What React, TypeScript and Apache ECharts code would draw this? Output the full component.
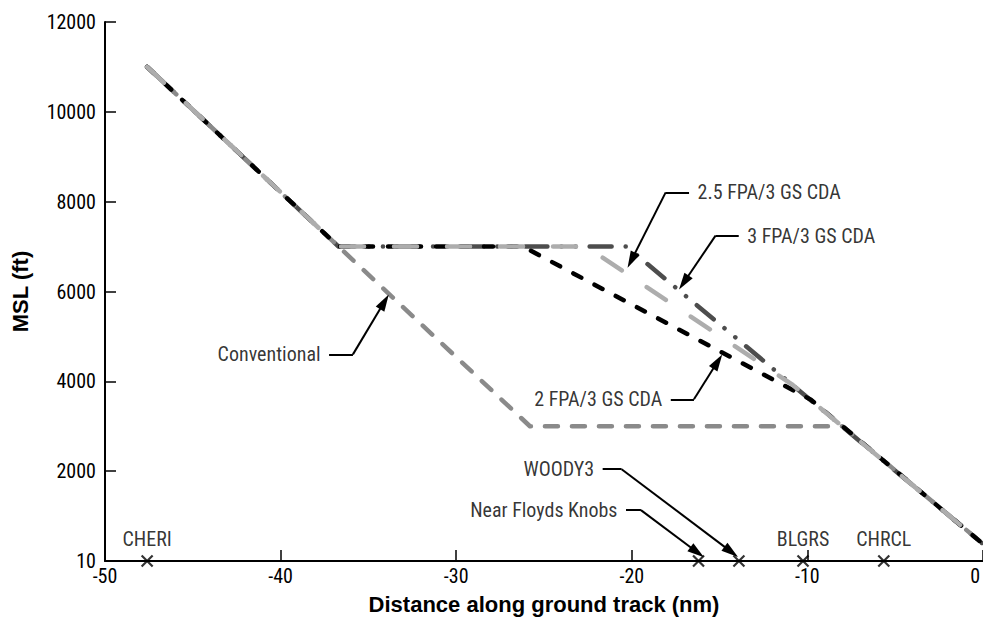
import React, { useEffect, useRef } from "react";
import * as echarts from "echarts";

// ---------- data ----------
const xTickValues = [-50, -40, -30, -20, -10, 0];
const yTickValues = [0, 2000, 4000, 6000, 8000, 10000, 12000];
const yTickLabels = ["10", "2000", "4000", "6000", "8000", "10000", "12000"];

const xAxisName = "Distance along ground track (nm)";
const yAxisName = "MSL (ft)";

// profiles: [distance (nm), altitude (ft)]
const conventional = [[-47.6, 11000], [-36.7, 7000], [-25.8, 3000], [-8.0, 3000], [0, 380]];
const fpa2 = [[-47.6, 11000], [-36.7, 7000], [-26.2, 7000], [-9.8, 3590], [0, 380]];
const fpa25 = [[-47.6, 11000], [-36.7, 7000], [-22.6, 7000], [-10.9, 3940], [0, 380]];
const fpa3 = [[-47.6, 11000], [-36.7, 7000], [-20.3, 7000], [0, 380]];

const waypointNames = ["CHERI", "Near Floyds Knobs", "WOODY3", "BLGRS", "CHRCL"];
const waypointDist = [-47.6, -16.2, -13.9, -10.25, -5.65];
const waypointLabelAbove = [true, false, false, true, true];

// annotations (data coordinates)
const annotationNames = ["2.5 FPA/3 GS CDA", "3 FPA/3 GS CDA", "Conventional", "2 FPA/3 GS CDA", "WOODY3", "Near Floyds Knobs"];
const annotationSide = ["right", "right", "left", "left", "left", "left"];
const leaderStart = [[-16.74, 8207], [-13.91, 7244], [-37.24, 4600], [-17.78, 3600], [-21.66, 2044], [-20.33, 1133]];
const leaderBend = [[-18.07, 8207], [-15.23, 7244], [-35.88, 4600], [-16.46, 3600], [-20.58, 2044], [-19.48, 1133]];
const arrowTip = [[-20.24, 6527], [-17.31, 6044], [-33.84, 5933], [-14.85, 4600], [-13.95, 90], [-15.89, 82]];

// ---------- styles ----------
const FONT = "'Liberation Sans Narrow', 'Arial Narrow', 'Roboto Condensed', 'DejaVu Sans Condensed', sans-serif";
const BOLD_FONT = "'Liberation Sans', Arial, Helvetica, sans-serif";
const TXT = 20;
const ARROW_W = 10;
const ARROW_L = 17;

function profileSeries(name: string, data: number[][], color: string, dash: number[], width: number) {
  return {
    type: "line",
    name,
    data,
    showSymbol: false,
    symbol: "none",
    lineStyle: { color, width, type: dash, cap: "round", join: "round" },
    z: 3,
  };
}

function buildOption(arrowEnds: number[][]) {
  return {
    animation: false,
    grid: { left: 105, right: -4, top: 22, bottom: 58 },
    xAxis: {
      type: "value",
      min: xTickValues[0],
      max: xTickValues[xTickValues.length - 1],
      interval: 10,
      name: xAxisName,
      nameLocation: "middle",
      nameGap: 32,
      nameTextStyle: { fontFamily: BOLD_FONT, fontSize: 22, fontWeight: "bold", color: "#000" },
      axisLine: { onZero: false, lineStyle: { color: "#000", width: 2 } },
      axisTick: { inside: true, length: 11, lineStyle: { color: "#000", width: 1.5 } },
      splitLine: { show: false },
      axisLabel: {
        margin: 5,
        fontFamily: FONT,
        fontSize: TXT,
        color: "#000",
        alignMaxLabel: "right",
        formatter: (v: number) => (v === 0 ? "{end|0}" : String(v)),
        rich: { end: { fontFamily: FONT, fontSize: TXT, color: "#000", padding: [0, 3, 0, 0] } },
      },
    },
    yAxis: {
      type: "value",
      min: yTickValues[0],
      max: yTickValues[yTickValues.length - 1],
      interval: 2000,
      name: yAxisName,
      nameLocation: "middle",
      nameGap: 74,
      nameTextStyle: { fontFamily: BOLD_FONT, fontSize: 22, fontWeight: "bold", color: "#000" },
      axisLine: { show: true, onZero: false, lineStyle: { color: "#000", width: 2 } },
      axisTick: { show: true, inside: true, length: 11, lineStyle: { color: "#000", width: 1.5 } },
      splitLine: { show: false },
      axisLabel: {
        margin: 9,
        fontFamily: FONT,
        fontSize: TXT,
        color: "#000",
        formatter: (v: number) => yTickLabels[yTickValues.indexOf(v)] ?? String(v),
      },
    },
    series: [
      profileSeries("3 FPA/3 GS CDA", fpa3, "#4d4d4d", [22, 14, 0.1, 14, 0.1, 14], 4.5),
      profileSeries("Conventional", conventional, "#8a8a8a", [13, 14], 4.5),
      profileSeries("2 FPA/3 GS CDA", fpa2, "#000000", [9, 15], 4.5),
      profileSeries("2.5 FPA/3 GS CDA", fpa25, "#adadad", [23, 30], 4.5),
      {
        type: "scatter",
        name: "waypoints",
        data: waypointNames.map((n, i) => ({
          name: n,
          value: [waypointDist[i], 0],
          label: { show: waypointLabelAbove[i] },
        })),
        symbol: "path://M0,0L10,10M10,0L0,10",
        symbolSize: 11,
        itemStyle: { color: "none", borderColor: "#000", borderWidth: 2.2 },
        label: {
          position: "top",
          distance: 4,
          formatter: "{b}",
          fontFamily: FONT,
          fontSize: TXT,
          color: "#000",
        },
        clip: false,
        z: 5,
      },
      {
        type: "lines",
        id: "leaders",
        coordinateSystem: "cartesian2d",
        data: leaderStart.map((p, i) => ({ coords: [p, leaderBend[i]] })),
        lineStyle: { color: "#000", width: 2, opacity: 1 },
        symbol: ["none", "none"],
        z: 6,
      },
      {
        type: "lines",
        id: "arrows",
        coordinateSystem: "cartesian2d",
        data: leaderBend.map((p, i) => ({ coords: [p, arrowEnds[i]] })),
        lineStyle: { color: "#000", width: 2, opacity: 1 },
        symbol: ["none", "triangle"],
        symbolSize: [ARROW_W, [ARROW_W, ARROW_L]],
        itemStyle: { color: "#000" },
        z: 6,
      },
      {
        type: "scatter",
        name: "annotations",
        data: annotationNames.map((n, i) => ({
          name: n,
          value: leaderStart[i],
          label: { show: true, position: annotationSide[i] },
        })),
        symbol: "circle",
        symbolSize: 1,
        itemStyle: { color: "rgba(0,0,0,0)" },
        label: {
          show: true,
          distance: 8,
          formatter: "{b}",
          fontFamily: FONT,
          fontSize: TXT,
          color: "#000",
        },
        z: 7,
      },
    ],
  };
}

export default function App() {
  const ref = useRef<HTMLDivElement>(null);
  useEffect(() => {
    if (!ref.current) return;
    const chart = echarts.init(ref.current, null, { renderer: "svg" });
    chart.setOption(buildOption(arrowTip) as any);
    // pull each arrow end back by half the arrowhead length so the tip lands on the target
    const ends = arrowTip.map((tip, i) => {
      const a = chart.convertToPixel({ gridIndex: 0 }, leaderBend[i]) as number[];
      const b = chart.convertToPixel({ gridIndex: 0 }, tip) as number[];
      const dx = b[0] - a[0];
      const dy = b[1] - a[1];
      const len = Math.sqrt(dx * dx + dy * dy) || 1;
      const p = [b[0] - (dx / len) * (ARROW_L / 2), b[1] - (dy / len) * (ARROW_L / 2)];
      return chart.convertFromPixel({ gridIndex: 0 }, p) as number[];
    });
    chart.setOption({
      series: [{ id: "arrows", data: leaderBend.map((p, i) => ({ coords: [p, ends[i]] })) }],
    } as any);
    return () => chart.dispose();
  }, []);
  return (
    <div
      ref={ref}
      style={{ position: "fixed", left: 0, top: 0, width: 983, height: 620, background: "#fff" }}
    />
  );
}
